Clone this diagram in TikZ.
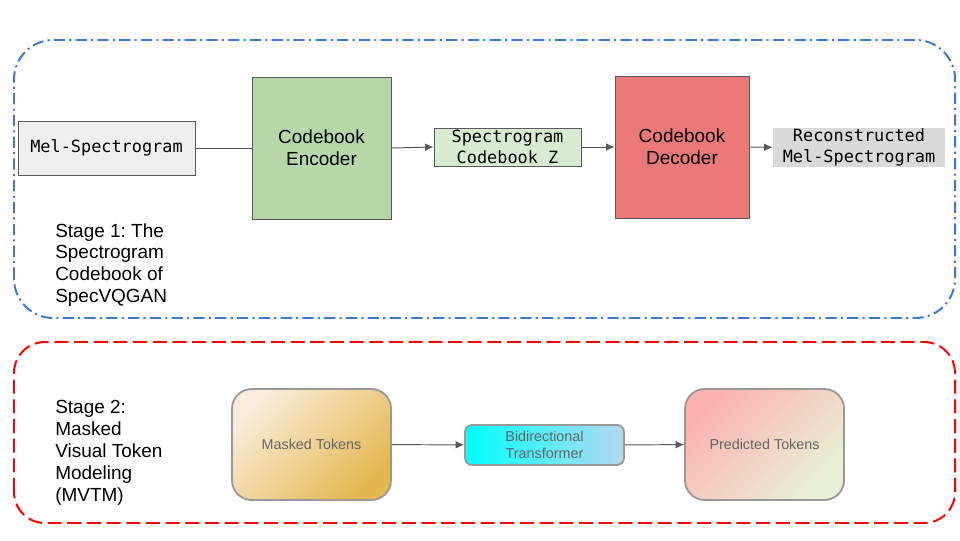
\documentclass[tikz,border=0pt]{standalone}
\usepackage{fontspec}
\setmainfont{Liberation Sans}
\setmonofont{DejaVu Sans Mono}
\frenchspacing
\usetikzlibrary{shapes,arrows,arrows.meta}
\usetikzlibrary{arrows,positioning}

\definecolor{sblue}{RGB}{60, 120, 216}
\definecolor{sred}{RGB}{255, 0, 0}
\definecolor{lgray}{RGB}{238, 238, 238}
\definecolor{mgray}{RGB}{217, 217, 217}
\definecolor{bgreen}{RGB}{182, 215, 168}
\definecolor{lgreen}{RGB}{217, 234, 211}
\definecolor{dpink}{RGB}{237, 120, 120}
\definecolor{edge}{RGB}{89, 89, 89}
\definecolor{soft}{RGB}{153, 153, 153}
\definecolor{gtext}{RGB}{102, 102, 102}
\definecolor{sand}{RGB}{249, 236, 218}
\definecolor{gold}{RGB}{228, 183, 80}
\definecolor{rose}{RGB}{252, 178, 176}
\definecolor{mint}{RGB}{232, 241, 214}
\definecolor{lsky}{RGB}{180, 216, 240}

\tikzstyle{block} = [rectangle, draw=edge, line width=0.7pt, inner sep=0pt,
  align=center, font=\fontsize{13.5}{15.6}\selectfont]
\tikzstyle{code} = [rectangle, draw=edge, line width=0.7pt, inner sep=0pt,
  align=center, font=\ttfamily\fontsize{12}{15.4}\selectfont]
\tikzstyle{token} = [rectangle, draw=soft, line width=1.3pt, rounded corners=14pt,
  inner sep=0pt, align=center, text=gtext, font=\fontsize{10.2}{12.5}\selectfont]
\tikzstyle{stage} = [anchor=west, align=left, inner sep=0pt,
  font=\fontsize{13.5}{15.6}\selectfont]
\tikzstyle{line} = [draw, color=edge, line width=0.7pt]
\tikzstyle{arrow} = [line, -{Latex[length=6pt, width=5.5pt]}]

\begin{document}
\begin{tikzpicture}

  \useasboundingbox (0,0) rectangle (24,13.5);

  %%%%%%%%%%%%%%%%%%%%%%%%%%%%%%%%%%%%%%%%%%%%%%%%%%%%%%%%%%%%%%
  %                    STAGE 1: SPECVQGAN CODEBOOK             %
  %%%%%%%%%%%%%%%%%%%%%%%%%%%%%%%%%%%%%%%%%%%%%%%%%%%%%%%%%%%%%%

  \draw [sblue, line width=1.4pt, rounded corners=28pt,
    dash pattern=on 8pt off 3pt on 1.5pt off 3pt] (0.35,5.55) rectangle (23.875,12.5);

  \node [code, fill=lgray, minimum width=4.425cm, minimum height=1.35cm] at (2.6625,9.8) (mel) {Mel-Spectrogram};
  \node [block, fill=bgreen, minimum width=3.475cm, minimum height=3.55cm] at (8.0375,9.8) (encoder) {Codebook\\Encoder};
  \node [code, fill=lgreen, minimum width=3.675cm, minimum height=0.95cm] at (12.6875,9.825) (codebook) {Spectrogram\\Codebook Z};
  \node [block, fill=dpink, minimum width=3.35cm, minimum height=3.55cm] at (17.05,9.825) (decoder) {Codebook\\Decoder};
  \node [code, draw=none, fill=mgray, minimum width=4.3cm, minimum height=0.925cm] at (21.475,9.8125) (recon) {Reconstructed\\Mel-Spectrogram};

  \node [stage] at (1.375,6.875) (stage-one) {Stage 1: The\\Spectrogram\\Codebook of\\SpecVQGAN};

  \path [line] (mel) -- (encoder);
  \path [arrow] (encoder.east) -- (codebook.west);
  \path [arrow] (codebook) -- (decoder);
  \path [arrow] (decoder) -- (recon);

  %%%%%%%%%%%%%%%%%%%%%%%%%%%%%%%%%%%%%%%%%%%%%%%%%%%%%%%%%%%%%%
  %                    STAGE 2: MVTM                           %
  %%%%%%%%%%%%%%%%%%%%%%%%%%%%%%%%%%%%%%%%%%%%%%%%%%%%%%%%%%%%%%

  \draw [sred, line width=1.4pt, rounded corners=22pt,
    dash pattern=on 10pt off 4pt] (0.35,0.425) rectangle (23.875,4.95);

  \node [stage] at (1.375,2.175) (stage-two) {Stage 2:\\Masked\\Visual Token\\Modeling\\(MVTM)};

  \node [token, top color=sand, bottom color=gold, shading angle=45,
    minimum width=3.975cm, minimum height=2.775cm] at (7.7875,2.3875) (masked) {Masked Tokens};
  \node [token, rounded corners=5pt, left color=cyan, right color=lsky,
    minimum width=3.975cm, minimum height=1.0cm] at (13.6125,2.375) (transformer) {Bidirectional\\Transformer};
  \node [token, top color=rose, bottom color=mint, shading angle=45,
    minimum width=3.975cm, minimum height=2.775cm] at (19.1125,2.3875) (predicted) {Predicted Tokens};

  \path [arrow] (masked) -- (transformer);
  \path [arrow] (transformer) -- (predicted);

\end{tikzpicture}
\end{document}
